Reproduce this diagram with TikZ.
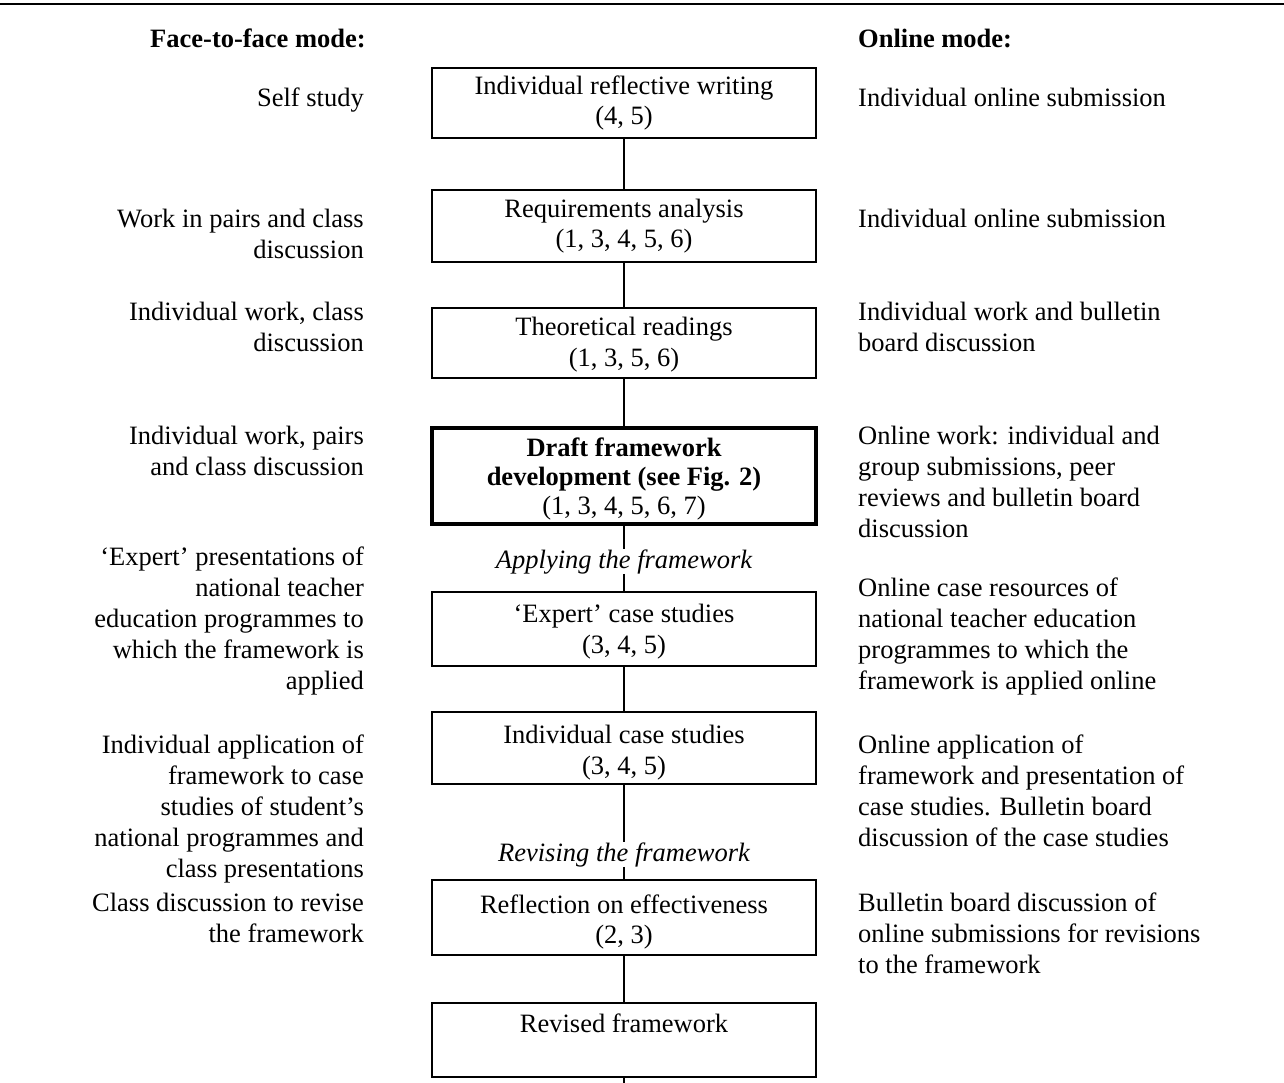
\documentclass[tikz,border=0pt]{standalone}
\usepackage{fontspec}
\setmainfont{Liberation Serif}
\begin{document}
\begin{tikzpicture}[x=1pt,y=-1pt,
  every node/.style={font=\fontsize{26.5}{31}\selectfont, inner sep=0pt},
  stage/.style={draw, line width=1.5pt, minimum width=384pt, align=center, font=\fontsize{26.5}{30.5}\selectfont},
  keystage/.style={stage, line width=3.5pt, font=\fontsize{26.5}{29}\selectfont},
  lefttext/.style={anchor=base east, align=right},
  righttext/.style={anchor=base west, align=left},
  heading/.style={anchor=base west, font=\fontsize{26.5}{31}\selectfont\bfseries},
  phase/.style={anchor=base, font=\fontsize{26.5}{31}\selectfont\itshape},
  link/.style={line width=1.5pt},
  toprule/.style={line width=2.5pt}]
\useasboundingbox (0,0) rectangle (1284,1082);

% top rule
\coordinate (ruleL) at (0,4);
\coordinate (ruleR) at (1284,4);
\draw[toprule] (ruleL) -- (ruleR);

% headings
\node[heading] (hL) at (150,47) {Face-to-face mode:};
\node[heading] (hR) at (858,47) {Online mode:};

% central stages
\node[stage, minimum height=70pt] (b1) at (624,103) {Individual reflective writing\\(4, 5)};
\node[stage, minimum height=72pt] (b2) at (624,226) {Requirements analysis\\(1, 3, 4, 5, 6)};
\node[stage, minimum height=70pt] (b3) at (624,343) {\rule{0pt}{22pt}Theoretical readings\\(1, 3, 5, 6)};
\node[keystage, minimum height=96pt] (b4) at (624,476) {\rule{0pt}{25pt}\textbf{Draft framework}\\\textbf{development (see Fig. 2)}\\(1, 3, 4, 5, 6, 7)};
\node[phase] (app) at (624,568) {Applying the framework};
\node[stage, minimum height=74pt] (b5) at (624,629) {\rule{0pt}{24pt}`Expert' case studies\\(3, 4, 5)};
\node[stage, minimum height=72pt] (b6) at (624,748) {\rule{0pt}{28pt}Individual case studies\\(3, 4, 5)};
\node[phase] (rev) at (624,861) {Revising the framework};
\node[stage, minimum height=75pt] (b7) at (624,917.5) {\rule{0pt}{28pt}Reflection on effectiveness\\(2, 3)};
\node[stage, minimum height=74pt] (b8) at (624,1040) {\rule{0pt}{24pt}Revised framework\\\strut};
\coordinate (bend) at (624,1084);

% connectors
\draw[link] (b1.south) -- (b2.north);
\draw[link] (b2.south) -- (b3.north);
\draw[link] (b3.south) -- (b4.north);
\draw[link] (b4.south) -- (app.north);
\draw[link] (app.south) -- (b5.north);
\draw[link] (b5.south) -- (b6.north);
\draw[link] (b6.south) -- (rev.north);
\draw[link] (rev.south) -- (b7.north);
\draw[link] (b7.south) -- (b8.north);
\draw[link] (b8.south) -- (bend);

% face-to-face column (base anchor = baseline of the last line)
\node[lefttext] (l1) at (364,106) {Self study};
\node[lefttext] (l2) at (364,258) {Work in pairs and class\\discussion};
\node[lefttext] (l3) at (364,351) {Individual work, class\\discussion};
\node[lefttext] (l4) at (364,475) {Individual work, pairs\\and class discussion};
\node[lefttext] (l5) at (364,689) {`Expert' presentations of\\national teacher\\education programmes to\\which the framework is\\applied};
\node[lefttext] (l6) at (364,877) {Individual application of\\framework to case\\studies of student's\\national programmes and\\class presentations};
\node[lefttext] (l7) at (364,942) {Class discussion to revise\\the framework};

% online column
\node[righttext] (r1) at (858,106) {Individual online submission};
\node[righttext] (r2) at (858,227) {Individual online submission};
\node[righttext] (r3) at (858,351) {Individual work and bulletin\\board discussion};
\node[righttext] (r4) at (858,537) {Online work: individual and\\group submissions, peer\\reviews and bulletin board\\discussion};
\node[righttext] (r5) at (858,689) {Online case resources of\\national teacher education\\programmes to which the\\framework is applied online};
\node[righttext] (r6) at (858,846) {Online application of\\framework and presentation of\\case studies. Bulletin board\\discussion of the case studies};
\node[righttext] (r7) at (858,973) {Bulletin board discussion of\\online submissions for revisions\\to the framework};
\end{tikzpicture}
\end{document}
